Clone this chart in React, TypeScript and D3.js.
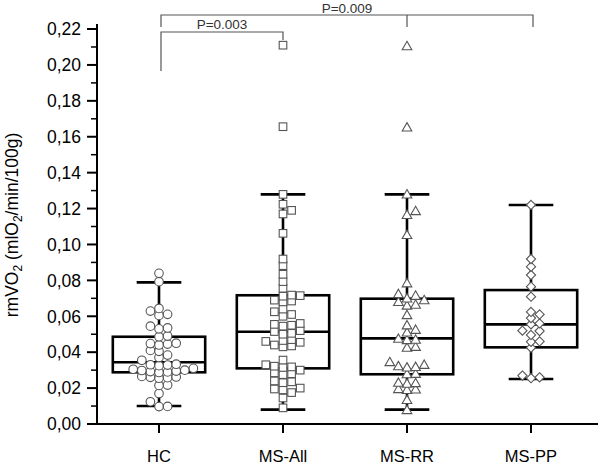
import React from "react";
import * as d3 from "d3";

const categories = ["HC", "MS-All", "MS-RR", "MS-PP"];
const q1 = [0.0288, 0.031, 0.0277, 0.0427];
const medians = [0.0344, 0.0514, 0.0477, 0.0555];
const q3 = [0.0486, 0.0717, 0.0698, 0.0746];
const whiskerLow = [0.01, 0.008, 0.008, 0.0251];
const whiskerHigh = [0.0789, 0.1279, 0.1279, 0.122];

const hcValues = [
  0.0839, 0.0793, 0.0644, 0.0629, 0.0611, 0.0605, 0.0535, 0.053, 0.0545, 0.049,
  0.0486, 0.045, 0.0445, 0.044, 0.0448, 0.041, 0.0405, 0.0384, 0.037, 0.0355,
  0.033, 0.0328, 0.0333, 0.0325, 0.031, 0.0305, 0.03, 0.0298, 0.0295, 0.0292,
  0.029, 0.0287, 0.0262, 0.026, 0.0258, 0.0255, 0.0265, 0.0217, 0.0215, 0.017,
  0.0124, 0.0098, 0.0097,
];
const msAllValues = [
  0.211, 0.1656, 0.1279, 0.1224, 0.119, 0.117, 0.1062, 0.0919, 0.0882, 0.0834,
  0.0793, 0.0756, 0.0715, 0.0712, 0.0718, 0.069, 0.0685, 0.068, 0.064, 0.0625,
  0.061, 0.06, 0.056, 0.0555, 0.0545, 0.055, 0.052, 0.0515, 0.05, 0.0505, 0.047,
  0.0465, 0.046, 0.0455, 0.044, 0.043, 0.0435, 0.0356, 0.033, 0.0322, 0.0318,
  0.0315, 0.03, 0.0285, 0.028, 0.0275, 0.024, 0.0235, 0.023, 0.02, 0.0195, 0.019,
  0.0175, 0.0145, 0.009,
];
const msRRValues = [
  0.2105, 0.1652, 0.1279, 0.1186, 0.1165, 0.1053, 0.0784, 0.0724, 0.0715, 0.07,
  0.069, 0.068, 0.0665, 0.066, 0.0607, 0.055, 0.0525, 0.051, 0.047, 0.0468,
  0.0475, 0.043, 0.0425, 0.0345, 0.033, 0.0322, 0.0318, 0.0315, 0.028, 0.0278,
  0.023, 0.0228, 0.0225, 0.0195, 0.0193, 0.019, 0.0134, 0.0078,
];
const msPPValues = [
  0.122, 0.0919, 0.0876, 0.083, 0.0765, 0.0709, 0.0624, 0.061, 0.059, 0.056,
  0.0555, 0.052, 0.0518, 0.0496, 0.046, 0.0458, 0.0425, 0.027, 0.026, 0.0255,
];
const groupValues = [hcValues, msAllValues, msRRValues, msPPValues];
const markerTypes = ["circle", "square", "triangle", "diamond"];

const yTicks = [0, 0.02, 0.04, 0.06, 0.08, 0.1, 0.12, 0.14, 0.16, 0.18, 0.2, 0.22];
const yMinorTicks = [0.01, 0.03, 0.05, 0.07, 0.09, 0.11, 0.13, 0.15, 0.17, 0.19, 0.21];

const W = 600;
const H = 465;
const axisX = 97;
const axisY = 424;
const FONT = "Arial, 'Liberation Sans', sans-serif";

const y = d3.scaleLinear().domain([0, 0.2228]).range([axisY, 24]);
const x = d3.scaleBand().domain(categories).range([axisX, 593]).padding(0);

function swarm(values: number[], cx: number, step: number, minDy: number) {
  const sorted = values.map((v) => ({ v, py: y(v) })).sort((a, b) => a.v - b.v);
  const placed: { px: number; py: number; v: number }[] = [];
  for (const p of sorted) {
    let chosen = cx;
    for (let k = 0; k < 20; k++) {
      const offs = k === 0 ? [0] : [k, -k];
      let ok = false;
      for (const o of offs) {
        const px = cx + o * step;
        const clash = placed.some(
          (q) => Math.abs(q.px - px) < step * 0.9 && Math.abs(q.py - p.py) < minDy
        );
        if (!clash) {
          chosen = px;
          ok = true;
          break;
        }
      }
      if (ok) break;
    }
    placed.push({ px: chosen, py: p.py, v: p.v });
  }
  return placed;
}

function Marker({ type, cx, cy }: { type: string; cx: number; cy: number }) {
  const st = { fill: "#fff", stroke: "#555", strokeWidth: 1.1 };
  if (type === "circle") return <circle cx={cx} cy={cy} r={4.3} {...st} />;
  if (type === "square") return <rect x={cx - 3.8} y={cy - 3.8} width={7.6} height={7.6} {...st} />;
  if (type === "triangle")
    return <path d={`M${cx},${cy - 4.8}L${cx + 4.8},${cy + 3.6}L${cx - 4.8},${cy + 3.6}Z`} {...st} />;
  return <path d={`M${cx},${cy - 4.6}L${cx + 4.6},${cy}L${cx},${cy + 4.6}L${cx - 4.6},${cy}Z`} {...st} />;
}

export default function App() {
  const bw = x.bandwidth();
  const boxW = bw * 0.745;
  const capW = bw * 0.36;
  return (
    <svg width={W} height={H} style={{ display: "block", position: "absolute", left: 0, top: 0 }}>
      <rect width={W} height={H} fill="#fff" />
      {/* y axis */}
      <line x1={axisX} x2={axisX} y1={24} y2={axisY} stroke="#000" strokeWidth={2} />
      {yTicks.map((t) => (
        <g key={"t" + t}>
          <line x1={axisX - 10} x2={axisX} y1={y(t)} y2={y(t)} stroke="#000" strokeWidth={2} />
          <text
            x={axisX - 16}
            y={y(t)}
            dy="0.36em"
            textAnchor="end"
            fontFamily={FONT}
            fontSize={17.5}
            fill="#000"
          >
            {d3.format(".2f")(t).replace(".", ",")}
          </text>
        </g>
      ))}
      {yMinorTicks.map((t) => (
        <line key={"m" + t} x1={axisX - 6} x2={axisX} y1={y(t)} y2={y(t)} stroke="#000" strokeWidth={1.5} />
      ))}
      {/* x axis */}
      <line x1={axisX - 1} x2={598} y1={axisY} y2={axisY} stroke="#000" strokeWidth={2} />
      {categories.map((c) => {
        const cx = x(c)! + bw / 2;
        return (
          <g key={"x" + c}>
            <line x1={cx} x2={cx} y1={axisY} y2={axisY + 9} stroke="#000" strokeWidth={2} />
            <text x={cx} y={462} textAnchor="middle" fontFamily={FONT} fontSize={16.5} fill="#000">
              {c}
            </text>
          </g>
        );
      })}
      {/* y label */}
      <text
        transform={`translate(18,225) rotate(-90)`}
        textAnchor="middle"
        fontFamily={FONT}
        fontSize={17.5}
        fill="#000"
      >
        <tspan>rmVO</tspan>
        <tspan dy={4} fontSize={12}>2</tspan>
        <tspan dy={-4}> (mlO</tspan>
        <tspan dy={4} fontSize={12}>2</tspan>
        <tspan dy={-4}>/min/100g)</tspan>
      </text>
      {/* boxes */}
      {categories.map((c, i) => {
        const cx = x(c)! + bw / 2;
        return (
          <g key={"b" + c} stroke="#000" strokeWidth={2.6} fill="none">
            <line x1={cx} x2={cx} y1={y(q3[i])} y2={y(whiskerHigh[i])} />
            <line x1={cx} x2={cx} y1={y(q1[i])} y2={y(whiskerLow[i])} />
            <line x1={cx - capW / 2} x2={cx + capW / 2} y1={y(whiskerHigh[i])} y2={y(whiskerHigh[i])} />
            <line x1={cx - capW / 2} x2={cx + capW / 2} y1={y(whiskerLow[i])} y2={y(whiskerLow[i])} />
            <rect x={cx - boxW / 2} y={y(q3[i])} width={boxW} height={y(q1[i]) - y(q3[i])} />
            <line x1={cx - boxW / 2} x2={cx + boxW / 2} y1={y(medians[i])} y2={y(medians[i])} />
          </g>
        );
      })}
      {/* points */}
      {categories.map((c, i) => {
        const cx = x(c)! + bw / 2;
        const pts = swarm(groupValues[i], cx, 8.6, 5.6);
        return (
          <g key={"p" + c}>
            {pts.map((p, j) => (
              <Marker key={j} type={markerTypes[i]} cx={p.px} cy={p.py} />
            ))}
          </g>
        );
      })}
      {/* significance brackets */}
      {(() => {
        const hc = x("HC")! + bw / 2 + 2;
        const all = x("MS-All")! + bw / 2;
        const rr = x("MS-RR")! + bw / 2;
        const pp = x("MS-PP")! + bw / 2 + 2;
        return (
          <g stroke="#555" strokeWidth={1.2} fill="none">
            <path d={`M${hc},71V32H${all}V40`} />
            <path d={`M${hc},27V15H${pp}V27M${rr},15V27`} />
            <text x={(hc + all) / 2} y={29} textAnchor="middle" fontFamily={FONT} fontSize={13.5} fill="#333" stroke="none">
              P=0.003
            </text>
            <text x={(hc + pp) / 2} y={12.5} textAnchor="middle" fontFamily={FONT} fontSize={13.5} fill="#333" stroke="none">
              P=0.009
            </text>
          </g>
        );
      })()}
    </svg>
  );
}
